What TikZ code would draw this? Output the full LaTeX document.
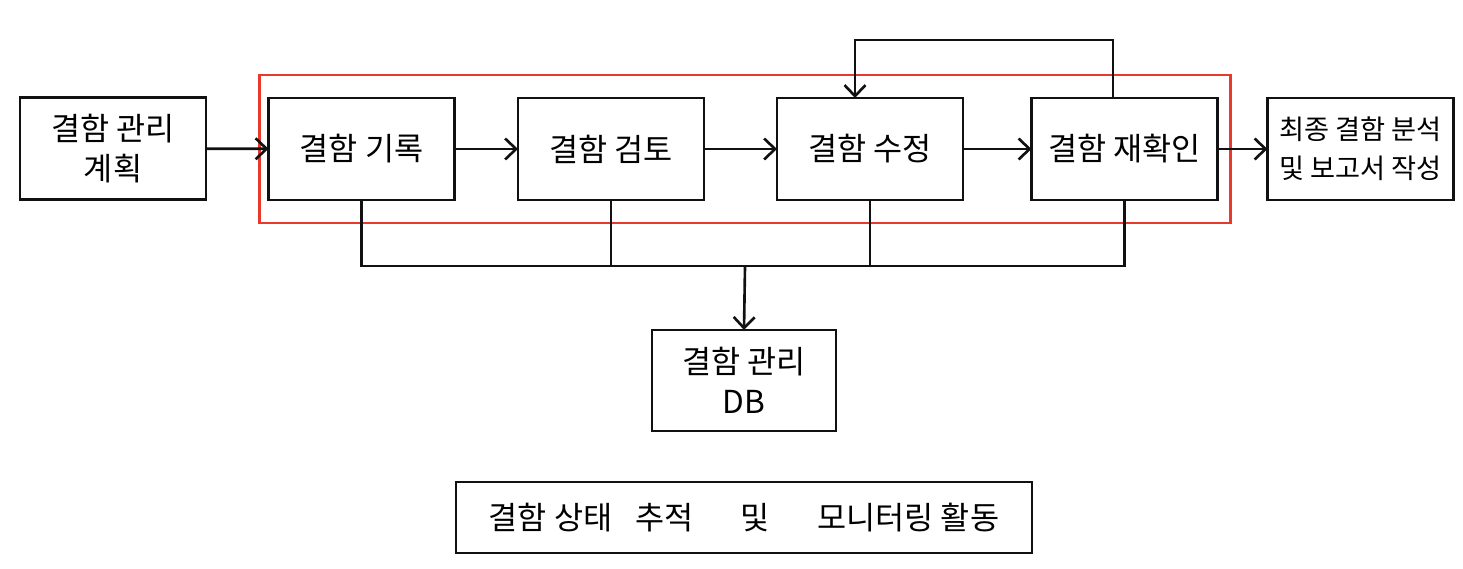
\documentclass[tikz,border=0pt]{standalone}
\usepackage{fontspec}
\setmainfont{Noto Sans CJK KR}
\usetikzlibrary{positioning,arrows.meta,fit}
\definecolor{linegrey}{HTML}{111111}
\definecolor{scopered}{HTML}{E8392B}
\tikzset{
  box/.style={
    draw=linegrey, align=center, inner sep=0pt, outer sep=0pt,
    font=\fontsize{18}{23}\selectfont, line width=1.6pt,
    minimum width=37.2mm, minimum height=20.4mm,
  },
  flow/.style ={-{Straight Barb[length=2.2mm, width=4.2mm]}, draw=linegrey, line width=1.5pt},
  wire/.style ={draw=linegrey, line width=1.5pt},
  scope/.style={draw=scopered, line width=1.6pt, inner xsep=2.2mm, inner ysep=4.6mm},
}
\begin{document}
\begin{tikzpicture}[x=0.2mm, y=-0.2mm]
\useasboundingbox (0,0) rectangle (1463,568);

% ============================================ main line
\node[box] (plan) at (113,148.5) {결함 관리\\계획};
\node[box] (rec)  at (361.5,149) {결함 기록};
\node[box] (rvw)  at (611,149)   {결함 검토};
\node[box] (fix)  at (870,149)   {결함 수정};
\node[box] (rch)  at (1124.5,149) {결함 재확인};
\node[box, font=\fontsize{15.5}{22}\selectfont] (fin) at (1360.5,149)
  {최종 결함 분석\\및 보고서 작성};

% the red frame holds the four steps of the cycle
\node[scope, fit=(rec)(rch), xshift=0.4mm] (cycle) {};

\draw[flow] (plan) -- (rec);
\draw[flow] (rec) -- (rvw);
\draw[flow] (rvw) -- (fix);
\draw[flow] (fix) -- (rch);
\draw[flow] (rch) -- (fin);

% recheck goes back to fixing
\coordinate (fbR) at (1113,40);
\coordinate (fbL) at (855,40);
\draw[flow] (rch.north -| fbR) -- (fbR) -- (fbL) -- (fix.north -| fbL);

% ============================================ database below
\node[box, minimum width=36.8mm, minimum height=20.2mm] (db) at (744,380.5) {결함 관리\\DB};

\coordinate (bus) at (745,266);
\draw[wire] (rec.south) -- (rec.south |- bus) -- (rch.south |- bus) -- (rch.south);
\draw[wire] (rvw.south) -- (rvw.south |- bus);
\draw[wire] (fix.south) -- (fix.south |- bus);
\draw[flow] (bus) -- (db.north);

\node[box, minimum width=115.2mm, minimum height=14.2mm] (mon) at (744,517.5)
  {결함 상태\enspace\ 추적\quad\enspace 및\quad\enspace 모니터링 활동};

\end{tikzpicture}
\end{document}
